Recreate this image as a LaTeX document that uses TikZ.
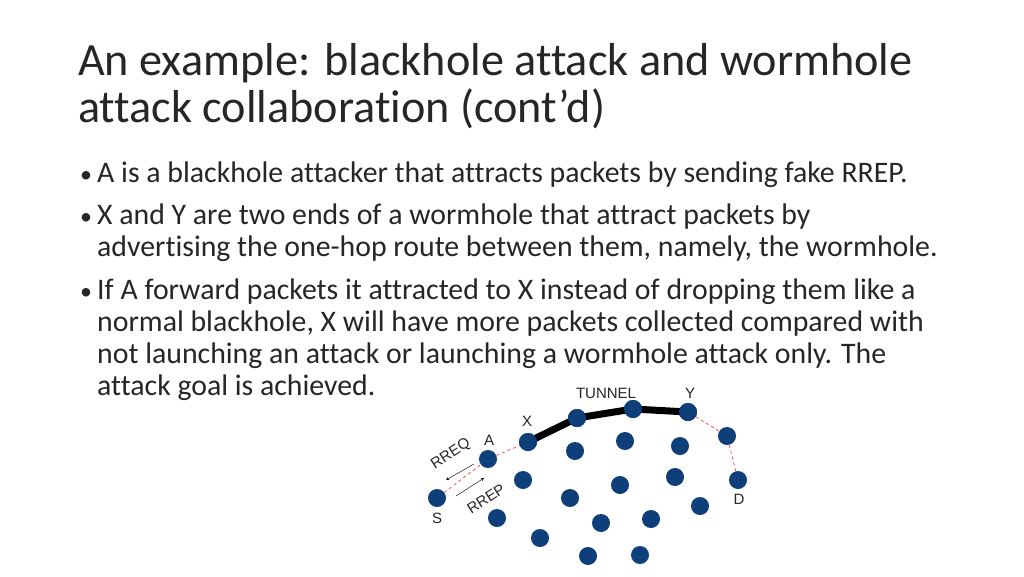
\documentclass[tikz,border=0pt]{standalone}
\usepackage{fontspec}
\setmainfont[Ligatures=NoCommon]{Carlito}
\newfontfamily\lab{Liberation Sans}
\begin{document}
\begin{tikzpicture}[x=1pt,y=-1pt,
  nd/.style={circle,fill=nblue,minimum size=18pt,inner sep=0pt},
  lbl/.style={font=\lab\fontsize{15}{15}\selectfont,text=txt},
  body/.style={anchor=base west,inner sep=0pt,font=\fontsize{29.8}{32}\selectfont,text=txt},
  bul/.style={anchor=base west,inner sep=0pt,font=\fontsize{24}{32}\selectfont,text=txt},
  red dash/.style={draw=red!70,dashed,line width=0.8pt}]
\definecolor{nblue}{HTML}{0E3F7A}
\definecolor{txt}{HTML}{262626}
\useasboundingbox[fill=white] (0,0) rectangle (1024,576);
\node[anchor=base west,inner sep=0pt,font=\fontsize{46.2}{47}\selectfont,text=txt] (title) at (78,75) {An example: blackhole attack and wormhole};
\node[anchor=base west,inner sep=0pt,font=\fontsize{46.2}{47}\selectfont,text=txt] (title2) at (78,122) {attack collaboration (cont’d)};
\node[bul] (b1) at (80,182) {•};
\node[body] (t1) at (97,182) {A is a blackhole attacker that attracts packets by sending fake RREP.};
\node[bul] (b2) at (80,224) {•};
\node[body] (t2) at (97,224) {X and Y are two ends of a wormhole that attract packets by};
\node[body] (t2b) at (97,256) {advertising the one-hop route between them, namely, the wormhole.};
\node[bul] (b3) at (80,299) {•};
\node[body] (t3) at (97,299) {If A forward packets it attracted to X instead of dropping them like a};
\node[body] (t3b) at (97,331) {normal blackhole, X will have more packets collected compared with};
\node[body] (t3c) at (97,363) {not launching an attack or launching a wormhole attack only. The};
\node[body] (t3d) at (97,395) {attack goal is achieved.};
% network
\node[nd] (S) at (437,498) {};
\node[nd] (A) at (488,459) {};
\node[nd] (X) at (528,442) {};
\node[nd] (T1) at (577,418) {};
\node[nd] (T2) at (633,409) {};
\node[nd] (Y) at (688,412) {};
\node[nd] (N1) at (727,436) {};
\node[nd] (D) at (738,480) {};
\foreach \p/\n in {{575,451}/o1,{625,441}/o2,{680,446}/o3,{523,480}/o4,{570,498}/o5,{620,485}/o6,{675,477}/o7,{700,506}/o8,{497,518}/o9,{540,538}/o10,{601,523}/o11,{651,519}/o12,{588,556}/o13,{640,555}/o14}
  \node[nd] (\n) at (\p) {};
\draw[red dash] (S) -- (A);
\draw[red dash] (A) -- (X);
\draw[red dash] (Y) -- (N1);
\draw[red dash] (N1) -- (D);
\draw[line width=7pt,line join=round] (X.center) -- (T1.center) -- (T2.center) -- (Y.center);
\node[nd] at (X) {};\node[nd] at (T1) {};\node[nd] at (T2) {};\node[nd] at (Y) {};
\coordinate (q1) at (474,464);
\coordinate (q2) at (446,480);
\coordinate (p1) at (456,496);
\coordinate (p2) at (484,478);
\draw[->,>=stealth,thin] (q1) -- (q2);
\draw[->,>=stealth,thin] (p1) -- (p2);
\node[lbl,rotate=33] (rreq) at (451,454) {RREQ};
\node[lbl,rotate=33] (rrep) at (486,499) {RREP};
\node[lbl] (lS) at (437,518) {S};
\node[lbl] (lA) at (489,440) {A};
\node[lbl] (lX) at (527,421) {X};
\node[lbl] (lT) at (606,393) {TUNNEL};
\node[lbl] (lY) at (690,393) {Y};
\node[lbl] (lD) at (739,499) {D};
\end{tikzpicture}
\end{document}
